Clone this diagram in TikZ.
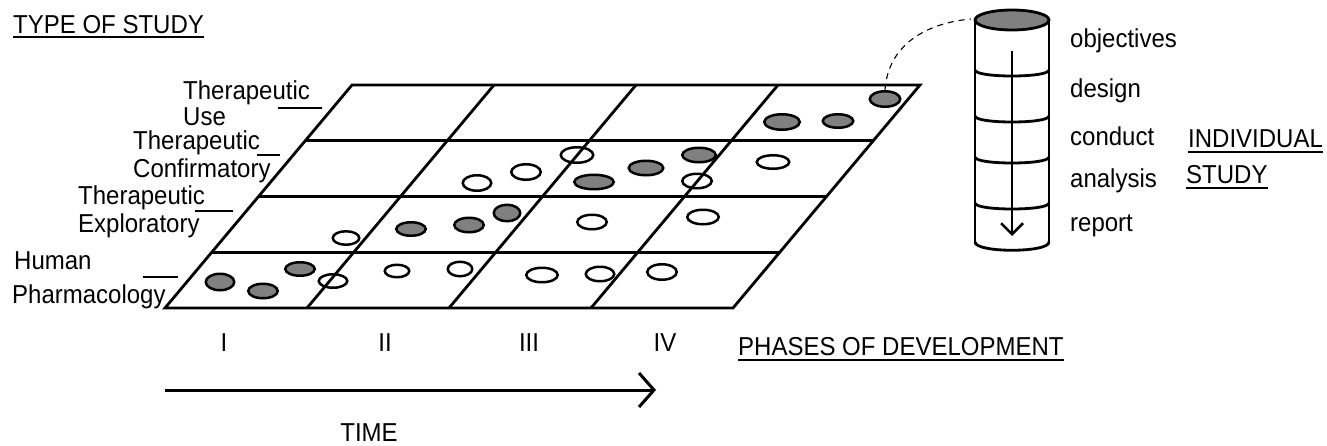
\documentclass[tikz,border=0pt]{standalone}
\usepackage{fontspec}
\usepackage{graphicx}
\setmainfont{Liberation Sans}
\usetikzlibrary{shapes.geometric,arrows.meta,calc}
\definecolor{dotgray}{RGB}{128,128,128}
\newcommand{\tx}[1]{\scalebox{1}[1.08]{#1}}
\begin{document}
\begin{tikzpicture}[x=1pt,y=-1pt,
  lbl/.style={inner sep=0pt, font=\fontsize{24}{28}\selectfont},
  gridln/.style={line width=2.8pt},
  dotw/.style={ellipse, draw, line width=2.5pt, inner sep=0pt},
  dotg/.style={dotw, fill=dotgray},
  tick/.style={line width=2.5pt},
  uline/.style={line width=2.5pt},
  cyl/.style={line width=2.8pt}]
\useasboundingbox (0,0) rectangle (1327,445);

% ---------------- grid ----------------
\coordinate (BL) at (165,308);
\coordinate (BR) at (733,308);
\coordinate (TL) at (352,85);
\coordinate (TR) at (920,85);
\draw[gridln] (BL) -- (BR) -- (TR) -- (TL) -- cycle;
\foreach \i in {1,2,3} {
  \draw[gridln] ($(BL)!\i/4!(TL)$) -- ($(BR)!\i/4!(TR)$);
  \draw[gridln] ($(BL)!\i/4!(BR)$) -- ($(TL)!\i/4!(TR)$);
}

% ---------------- studies (ellipses) ----------------
\foreach \x/\y/\w/\h/\s [count=\i] in {
  220/282/31/19/dotg, 263/291/32/17/dotg, 300/269/32/16/dotg,
  333/281/31/16/dotw, 397/271/27/15/dotw, 460/269/27/17/dotw,
  542/275/34/17/dotw, 600/274/31/17/dotw, 662/272/32/18/dotw,
  346/238/29/16/dotw, 411/229/32/16/dotg, 469/225/32/17/dotg,
  507/213/29/19/dotg, 592/222/32/17/dotw, 703/217/34/17/dotw,
  477/183/31/18/dotw, 526/172/32/18/dotw, 577/155/35/18/dotw,
  594/182/42/17/dotg, 646/168/37/17/dotg, 699/155/36/17/dotg,
  697/181/32/17/dotw, 773/162/35/16/dotw,
  782/122/38/18/dotg, 838/121/33/16/dotg, 885/99/33/18/dotg}
  \node[\s, minimum width={\w pt-2.5pt}, minimum height={\h pt-2.5pt}] (e\i) at (\x,\y) {};

% ---------------- left labels ----------------
\node[lbl, anchor=base west] (title) at (13,33) {\tx{TYPE OF STUDY}};
\draw[uline] ([yshift=-4pt]title.base west) -- ([yshift=-4pt]title.base east);

\node[lbl, anchor=base west] (tu1) at (183,99) {\tx{Therapeutic}};
\node[lbl, anchor=base west] (tu2) at (183,125) {\tx{Use}};
\node[lbl, anchor=base west] (tc1) at (133,149) {\tx{Therapeutic}};
\node[lbl, anchor=base west] (tc2) at (133,177) {\tx{Confirmatory}};
\node[lbl, anchor=base west] (te1) at (78,204) {\tx{Therapeutic}};
\node[lbl, anchor=base west] (te2) at (78,232) {\tx{Exploratory}};
\node[lbl, anchor=base west] (hp1) at (14,269) {\tx{Human}};
\node[lbl, anchor=base west] (hp2) at (12,303) {\tx{Pharmacology}};

\coordinate (k1a) at (278,108); \coordinate (k1b) at (322,108);
\coordinate (k2a) at (257,155); \coordinate (k2b) at (280,155);
\coordinate (k3a) at (195,211); \coordinate (k3b) at (233,211);
\coordinate (k4a) at (143,277); \coordinate (k4b) at (178,277);
\draw[tick] (k1a) -- (k1b);
\draw[tick] (k2a) -- (k2b);
\draw[tick] (k3a) -- (k3b);
\draw[tick] (k4a) -- (k4b);

% ---------------- phases & time ----------------
\node[lbl, anchor=base] (p1) at (224,351) {\tx{I}};
\node[lbl, anchor=base] (p2) at (385,351) {\tx{II}};
\node[lbl, anchor=base] (p3) at (529,351) {\tx{III}};
\node[lbl, anchor=base] (p4) at (665,351) {\tx{IV}};

\node[lbl, anchor=base west] (phases) at (738,355) {\tx{PHASES OF DEVELOPMENT}};
\draw[uline] ([yshift=-5pt]phases.base west) -- ([yshift=-5pt]phases.base east);

\coordinate (t0) at (165,390);
\coordinate (t1) at (656,390);
\draw[line width=3pt, -{Straight Barb[length=15pt,width=34pt]}] (t0) -- (t1);
\node[lbl, anchor=base] (time) at (369,441) {\tx{TIME}};

% ---------------- individual study cylinder ----------------
\draw[cyl] (975,20) -- (975,243);
\draw[cyl] (1049,20) -- (1049,243);
\foreach \yy in {70,116,157,203}
  \draw[cyl] (975,\yy) .. controls (975,\yy+8) and (1049,\yy+8) .. (1049,\yy);
\draw[cyl] (975,242) .. controls (975,253) and (1049,253) .. (1049,242);
\draw[cyl, fill=dotgray] (1012,20) ellipse [x radius=37, y radius=10];
\coordinate (cyltop) at (971,19);
\coordinate (a0) at (1012,51);
\coordinate (a1) at (1012,236);
\draw[line width=2.5pt, -{Straight Barb[length=11pt,width=22pt]}] (a0) -- (a1);

\draw[line width=1.1pt, dash pattern=on 6pt off 5pt] (e26.north) .. controls +(3,-45) and +(-45,4) .. (cyltop);

\node[lbl, anchor=base west] (s1) at (1070,47) {\tx{objectives}};
\node[lbl, anchor=base west] (s2) at (1070,97) {\tx{design}};
\node[lbl, anchor=base west] (s3) at (1070,145) {\tx{conduct}};
\node[lbl, anchor=base west] (s4) at (1070,187) {\tx{analysis}};
\node[lbl, anchor=base west] (s5) at (1070,231) {\tx{report}};

\node[lbl, anchor=base west] (ind1) at (1188,147) {\tx{INDIVIDUAL}};
\draw[uline] ([yshift=-5pt]ind1.base west) -- ([yshift=-5pt]ind1.base east);
\node[lbl, anchor=base west] (ind2) at (1186,183) {\tx{STUDY}};
\draw[uline] ([yshift=-5pt]ind2.base west) -- ([yshift=-5pt]ind2.base east);
\end{tikzpicture}
\end{document}
